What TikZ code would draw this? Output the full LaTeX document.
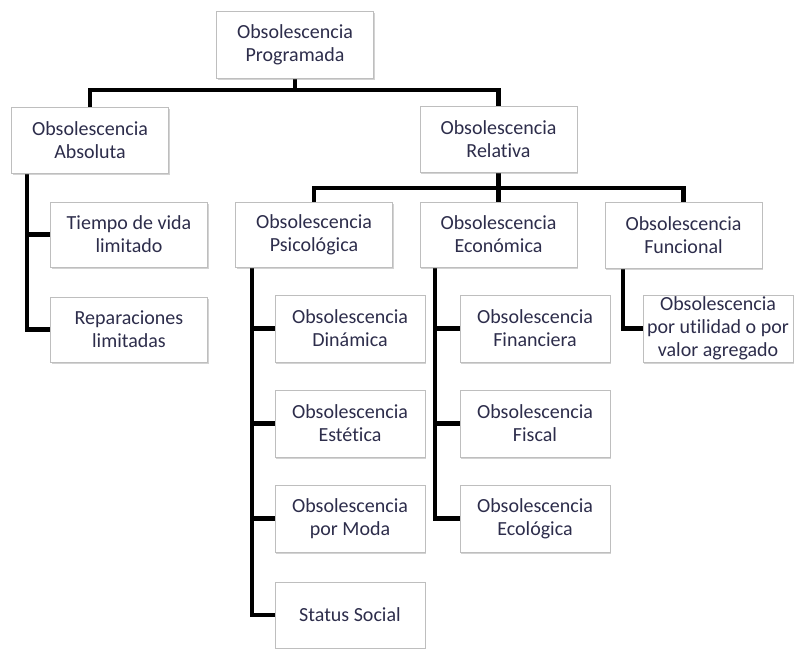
\documentclass[tikz,border=0pt]{standalone}
\usepackage{fontspec}
\setmainfont{Carlito}[Ligatures=NoCommon]
\usetikzlibrary{shadows,backgrounds}
\definecolor{txt}{RGB}{45,45,75}
\definecolor{bord}{RGB}{190,190,190}
\begin{document}
\begin{tikzpicture}[x=1pt,y=-1pt,
  box/.style={draw=bord, line width=0.8pt, fill=white, minimum height=66pt,
    inner sep=0pt, align=center, text=txt,
    font=\fontsize{20}{23}\selectfont,
    drop shadow={shadow xshift=1.2pt, shadow yshift=-1.5pt, opacity=0.35, fill=black!50}},
  wbox/.style={box, minimum width=157pt},
  nbox/.style={box, minimum width=150pt},
  conn/.style={line width=4.5pt, black, line join=miter}]
\useasboundingbox (0,0) rectangle (794,648);
% level 0
\node[wbox, minimum height=67pt] (prog) at (295,44.5) {Obsolescencia\\Programada};
% level 1
\node[wbox] (abs) at (90,140) {Obsolescencia\\Absoluta};
\node[wbox] (rel) at (498.5,139.5) {Obsolescencia\\Relativa};
% absolute children
\node[wbox, minimum height=65pt] (tiempo) at (129,234.5) {Tiempo de vida\\limitado};
\node[wbox, minimum height=65pt] (repar) at (129,329.5) {Reparaciones\\limitadas};
% relative children
\node[wbox, minimum height=65pt] (psico) at (314,234.5) {Obsolescencia\\Psicológica};
\node[wbox, minimum height=65pt] (econ) at (498.5,234.5) {Obsolescencia\\Económica};
\node[wbox] (func) at (683.5,235) {Obsolescencia\\Funcional};
% functional child
\node[nbox, minimum height=67pt] (util) at (718,328.5) {Obsolescencia\\por utilidad o por\\valor agregado};
% psychological children
\node[nbox, minimum height=67pt] (dinam) at (350,328.5) {Obsolescencia\\Dinámica};
\node[nbox, minimum height=67pt] (estet) at (350,423.5) {Obsolescencia\\Estética};
\node[nbox, minimum height=67pt] (moda) at (350,518.5) {Obsolescencia\\por Moda};
\node[nbox] (status) at (350,615) {Status Social};
% economic children
\node[nbox, minimum height=67pt] (finan) at (535,328.5) {Obsolescencia\\Financiera};
\node[nbox, minimum height=67pt] (fiscal) at (535,423.5) {Obsolescencia\\Fiscal};
\node[nbox, minimum height=67pt] (ecol) at (535,518.5) {Obsolescencia\\Ecológica};
% bus coordinates
\coordinate (bus1) at (0,90);
\coordinate (bus2) at (0,188);
\coordinate (av) at (27,173);
\coordinate (pv) at (252,267);
\coordinate (ev) at (435,267);
\coordinate (fv) at (623,268);
\begin{scope}[on background layer]
  \draw[conn] (abs.north) -- (abs.north |- bus1) -- (rel.north |- bus1) -- (rel.north);
  \draw[conn] (prog.south) -- (prog.south |- bus1);
  \draw[conn] (psico.north) -- (psico.north |- bus2) -- (func.north |- bus2) -- (func.north);
  \draw[conn] (rel.south) -- (econ.north);
  \draw[conn] (av) |- (tiempo.west);
  \draw[conn] (av) |- (repar.west);
  \draw[conn] (pv) |- (dinam.west);
  \draw[conn] (pv) |- (estet.west);
  \draw[conn] (pv) |- (moda.west);
  \draw[conn] (pv) |- (status.west);
  \draw[conn] (ev) |- (finan.west);
  \draw[conn] (ev) |- (fiscal.west);
  \draw[conn] (ev) |- (ecol.west);
  \draw[conn] (fv) |- (util.west);
\end{scope}
\end{tikzpicture}
\end{document}
